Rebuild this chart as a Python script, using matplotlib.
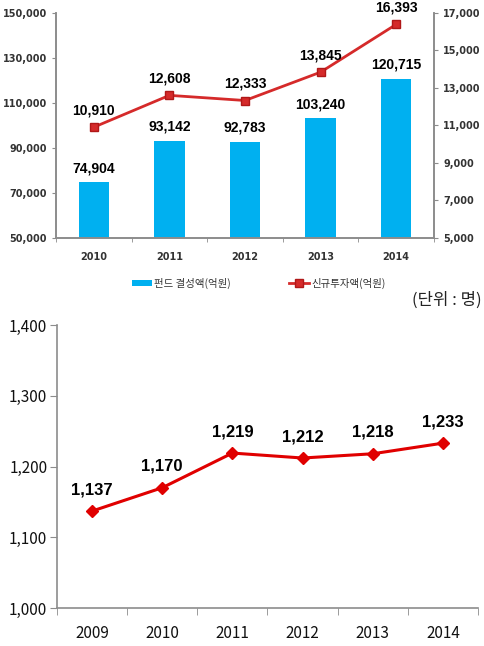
import numpy as np
import matplotlib
matplotlib.use("Agg")
import matplotlib.pyplot as plt
from matplotlib.ticker import FuncFormatter, FixedLocator

plt.rcParams['font.family'] = ['DejaVu Sans', 'Noto Sans CJK KR']

# top chart data
years_top = ["2010", "2011", "2012", "2013", "2014"]
fund = [74904, 93142, 92783, 103240, 120715]
invest = [10910, 12608, 12333, 13845, 16393]
fund_label = "펀드 결성액(억원)"
invest_label = "신규투자액(억원)"

# bottom chart data
years_bot = ["2009", "2010", "2011", "2012", "2013", "2014"]
people = [1137, 1170, 1219, 1212, 1218, 1233]
unit_text = "(단위 : 명)"

kr = ['Noto Sans CJK KR', 'DejaVu Sans']
lib = ['Liberation Sans', 'DejaVu Sans']
gray = "#8c8c8c"
comma = FuncFormatter(lambda v, p: f"{int(v):,}")

fig = plt.figure(figsize=(4.84, 6.46), dpi=100)

# ---------- top chart ----------
ax = fig.add_axes([56/484, 1-238/646, 378/484, 225/646])
x = np.arange(len(years_top))
ax.bar(x, fund, width=0.4, color="#00B0F0", label=fund_label, zorder=2)
ax.set_xlim(-0.5, len(years_top) - 0.5)
ax.set_ylim(50000, 150000)
ax.set_yticks(np.arange(50000, 150001, 20000))
ax.yaxis.set_major_formatter(comma)
ax.set_xticks(x)
ax.set_xticklabels(years_top, fontsize=7, fontweight="bold", color="#333333")
ax.xaxis.set_minor_locator(FixedLocator(np.arange(-0.5, len(years_top), 1)))
ax.tick_params(axis="x", which="major", length=0, pad=10)
ax.tick_params(axis="x", which="minor", length=3, color=gray)
ax.tick_params(axis="y", labelsize=7, length=3, color=gray, labelcolor="#333333")
for lab in ax.get_yticklabels():
    lab.set_fontweight("bold")
ax.spines["top"].set_visible(False)
for s in ["left", "bottom", "right"]:
    ax.spines[s].set_color(gray)
    ax.spines[s].set_linewidth(1.2)
for xi, v in zip(x, fund):
    ax.annotate(f"{v:,}", (xi, v), xytext=(0, 5), textcoords="offset points",
                ha="center", va="bottom", fontsize=10, fontweight="bold", family=lib)

ax2 = ax.twinx()
ax2.plot(x, invest, color="#D52A2A", lw=2, marker="s", ms=5.5,
         mfc="#D52A2A", mec="#B01818", label=invest_label, zorder=3)
ax2.set_ylim(5000, 17000)
ax2.set_yticks(np.arange(5000, 17001, 2000))
ax2.yaxis.set_major_formatter(comma)
ax2.tick_params(axis="y", labelsize=7, length=3, color=gray, labelcolor="#333333")
for lab in ax2.get_yticklabels():
    lab.set_fontweight("bold")
ax2.spines["top"].set_visible(False)
for s in ["left", "bottom", "right"]:
    ax2.spines[s].set_color(gray)
    ax2.spines[s].set_linewidth(1.2)
for xi, v in zip(x, invest):
    ax2.annotate(f"{v:,}", (xi, v), xytext=(0, 7), textcoords="offset points",
                 ha="center", va="bottom", fontsize=10, fontweight="bold", family=lib)

h1, l1 = ax.get_legend_handles_labels()
h2, l2 = ax2.get_legend_handles_labels()
leg = fig.legend(h1 + h2, l1 + l2, ncol=2, loc="center",
                 bbox_to_anchor=(259/484, 1-283/646), frameon=False,
                 prop={'family': kr, 'size': 7.5}, columnspacing=5.6,
                 handlelength=1.9, handletextpad=0.25, handleheight=0.5)
for t in leg.get_texts():
    t.set_color("#333333")

fig.text(482/484, 1-300/646, unit_text, ha="right", va="center",
         fontsize=12, family=kr, color="#222222")

# ---------- bottom chart ----------
bx = fig.add_axes([57/484, 1-608/646, 421/484, 283/646])
xb = np.arange(len(years_bot))
bx.plot(xb, people, color="#E00000", lw=2.2, marker="D", ms=6, zorder=3)
bx.set_xlim(-0.5, len(years_bot) - 0.5)
bx.set_ylim(1000, 1400)
bx.set_yticks(np.arange(1000, 1401, 100))
bx.yaxis.set_major_formatter(comma)
bx.set_xticks(xb)
bx.set_xticklabels(years_bot, fontsize=11, color="#111111", family=kr)
bx.xaxis.set_minor_locator(FixedLocator(np.arange(-0.5, len(years_bot), 1)))
bx.tick_params(axis="x", which="major", length=0, pad=12)
bx.tick_params(axis="x", which="minor", length=5, color=gray)
bx.tick_params(axis="y", labelsize=11, length=5, color=gray, labelcolor="#111111", pad=2)
for lab in bx.get_yticklabels():
    lab.set_family(kr)
for s in ["top", "right"]:
    bx.spines[s].set_visible(False)
for s in ["left", "bottom"]:
    bx.spines[s].set_color(gray)
    bx.spines[s].set_linewidth(1.2)
for xi, v in zip(xb, people):
    bx.annotate(f"{v:,}", (xi, v), xytext=(0, 10), textcoords="offset points",
                ha="center", va="bottom", fontsize=12, fontweight="bold", family=lib)

fig.savefig("out.png", dpi=100)
